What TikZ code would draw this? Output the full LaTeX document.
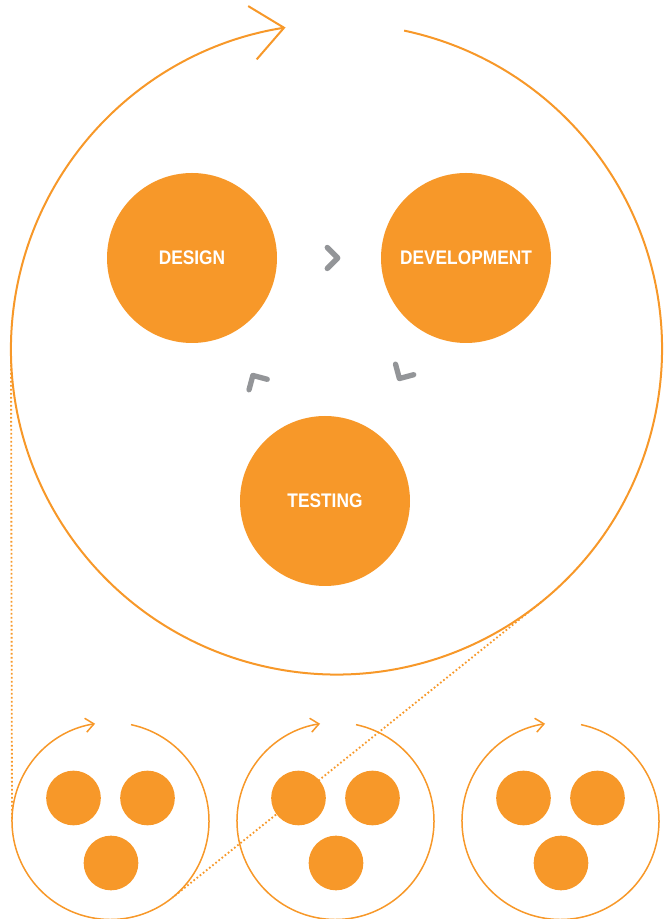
\documentclass[tikz,border=0pt]{standalone}
\usepackage{fontspec}
\newfontfamily\phasefont[FakeStretch=0.88]{Liberation Sans}
\usetikzlibrary{arrows.meta,calc}

\definecolor{cycleorange}{RGB}{247,152,41}
\definecolor{chevrongray}{RGB}{147,149,152}

\tikzset{
  bigring/.style={draw=cycleorange, line width=0.6mm},
  smallring/.style={draw=cycleorange, line width=0.45mm},
  guide/.style={circle, inner sep=0pt, outer sep=0pt},
  phase/.style={circle, fill=cycleorange, minimum size=51mm, inner sep=0pt,
    text=white, font=\phasefont\bfseries\fontsize{16.8}{20}\selectfont},
  minidot/.style={circle, fill=cycleorange, minimum size=16.4mm, inner sep=0pt},
  zoomline/.style={cycleorange, line width=0.55mm, dash pattern=on 0.5mm off 0.7mm},
  chevron/.pic={
    \draw[chevrongray, line width=1.6mm, line cap=round, line join=round]
      (-5.25,10.5) -- (5.25,0) -- (-5.25,-10.5);
  }
}

\begin{document}
\begin{tikzpicture}[x=0.3mm, y=0.3mm]
  \useasboundingbox (0,0) rectangle (665,919);

  % invisible outlines, used for the anchors
  \node[guide, minimum size=195.3mm] (big) at (336.5,570) {};
  \foreach \i/\cx in {1/110.5, 2/335.5, 3/560.5}
    \node[guide, minimum size=59.1mm] (s\i) at (\cx,98) {};

  % Zoom lines
  \draw[zoomline] (big.west) -- (s1.west);
  \draw[zoomline] (big.-51.3) -- (s1.-51.3);

  % Big cycle
  \draw[bigring, -{Straight Barb[length=9.6mm, width=16.2mm]}]
    (big.78) arc[start angle=78, end angle=-261, radius=325.5];

  \node[phase] (dsg) at (192,661) {DESIGN};
  \node[phase] (dev) at (466,661) {DEVELOPMENT};
  \node[phase] (tst) at (325,418) {TESTING};

  % Chevrons between the phases
  \pic at ($(dsg)!0.5!(dev)+(3.5,0)$) {chevron};
  \pic[rotate=240] at ($(dev)!0.5!(tst)+(6.5,5.5)$) {chevron};
  \pic[rotate=120] at ($(tst)!0.5!(dsg)+(-3,-0.5)$) {chevron};

  % Small cycles
  \foreach \i in {1,2,3} {
    \draw[smallring, -{Straight Barb[length=2.5mm, width=4.2mm]}]
      (s\i.78) arc[start angle=78, end angle=-261, radius=98.5];
    \node[minidot] (s\i-a) at ($(s\i)+(-37,23)$) {};
    \node[minidot] (s\i-b) at ($(s\i)+(37,23)$) {};
    \node[minidot] (s\i-c) at ($(s\i)+(0.5,-42)$) {};
  }
\end{tikzpicture}
\end{document}
